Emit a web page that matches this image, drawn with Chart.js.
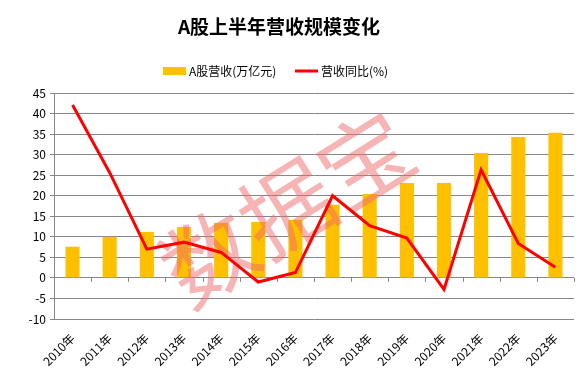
<!DOCTYPE html>
<html><head><meta charset="utf-8">
<script src="https://cdn.jsdelivr.net/npm/chart.js@4.4.0/dist/chart.umd.min.js"></script>
<style>html,body{margin:0;padding:0;background:#fff}#wrap{width:583px;height:381px}</style>
</head><body><div id="wrap"><canvas id="c" width="583" height="381"></canvas></div>
<script>
const categories = ['2010年','2011年','2012年','2013年','2014年','2015年','2016年','2017年','2018年','2019年','2020年','2021年','2022年','2023年'];
const revenue = [7.6, 10.0, 11.2, 12.4, 13.4, 13.6, 14.1, 17.8, 20.4, 23.1, 23.1, 30.4, 34.3, 35.3];
const growth = [42.1, 25.6, 7.0, 8.7, 6.2, -1.0, 1.3, 20.0, 12.7, 9.7, -2.8, 26.3, 8.4, 2.6];
const yTicks = [45, 40, 35, 30, 25, 20, 15, 10, 5, 0, -5, -10];
const titleText = 'A股上半年营收规模变化';
const legendBar = 'A股营收(万亿元)';
const legendLine = '营收同比(%)';
const watermark = '数据宝';

const FONT = '"Noto Sans CJK SC", "Noto Sans", sans-serif';
const GRID = '#878787';

const deco = {
  id: 'deco',
  afterDatasetDraw(chart, args) {
    if (args.index !== 1) return;
    const ctx = chart.ctx;
    ctx.save();
    ctx.translate(287, 208);
    ctx.rotate(-32 * Math.PI / 180);
    ctx.font = '400 92px ' + FONT;
    ctx.textAlign = 'center'; ctx.textBaseline = 'middle';
    ctx.fillStyle = 'rgba(240,105,105,0.5)';
    ctx.fillText(watermark, 0, 0);
    ctx.restore();
  },
  afterDraw(chart) {
    const ctx = chart.ctx, y = chart.scales.y;
    ctx.save();
    const y0 = y.getPixelForValue(0);
    ctx.strokeStyle = GRID; ctx.lineWidth = 1;
    const n = categories.length;
    const step = (chart.chartArea.right - chart.chartArea.left) / n;
    for (let i = 1; i <= n; i++) {
      const px = Math.round(chart.chartArea.left + step * i) + 0.5;
      ctx.beginPath(); ctx.moveTo(px, y0); ctx.lineTo(px, y0 + 4); ctx.stroke();
    }
    ctx.fillStyle = '#000';
    ctx.font = 'bold 19px ' + FONT;
    ctx.textAlign = 'center'; ctx.textBaseline = 'middle';
    ctx.fillText(titleText, 279, 27);
    ctx.font = '12px ' + FONT;
    ctx.textAlign = 'left';
    ctx.fillStyle = '#FFC000';
    ctx.fillRect(163, 67, 23, 8);
    ctx.fillStyle = '#000';
    ctx.fillText(legendBar, 189, 71);
    ctx.strokeStyle = '#FF0000'; ctx.lineWidth = 3;
    ctx.beginPath(); ctx.moveTo(295, 71); ctx.lineTo(318, 71); ctx.stroke();
    ctx.fillText(legendLine, 321, 71);
    ctx.restore();
  }
};

new Chart(document.getElementById('c'), {
  data: {
    labels: categories,
    datasets: [
      { type: 'line', label: legendLine, data: growth, borderColor: '#FF0000', backgroundColor: '#FF0000', borderWidth: 3, pointRadius: 0, tension: 0, order: 0 },
      { type: 'bar', label: legendBar, data: revenue, backgroundColor: '#FFC000', categoryPercentage: 1, barPercentage: 0.38, order: 1 }
    ]
  },
  options: {
    responsive: false, animation: false,
    layout: { padding: { top: 93, right: 9, left: 0, bottom: 0 } },
    plugins: { legend: { display: false }, title: { display: false }, tooltip: { enabled: false } },
    scales: {
      x: {
        grid: { display: false, drawTicks: false },
        border: { display: false },
        ticks: { color: '#000', font: { family: FONT, size: 12 }, maxRotation: 45, minRotation: 45, autoSkip: false, padding: 12 },
        afterFit(s) { s.height = 62; }
      },
      y: {
        min: -10, max: 45,
        afterBuildTicks(s) { s.ticks = yTicks.map(v => ({ value: v })); },
        grid: { color: GRID, lineWidth: 1, tickLength: 4 },
        border: { display: true, color: GRID },
        ticks: { color: '#000', font: { family: FONT, size: 12 }, padding: 4 },
        afterFit(s) { s.width = 54; }
      }
    }
  },
  plugins: [deco]
});
</script></body></html>
